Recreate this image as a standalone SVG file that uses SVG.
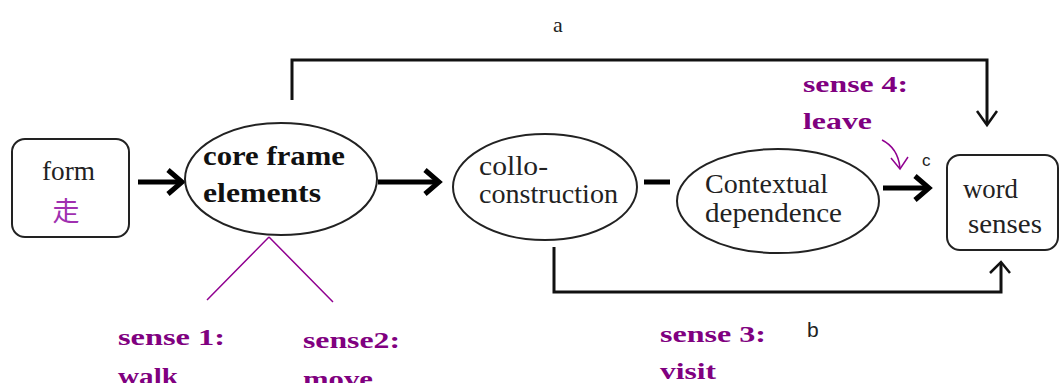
<svg xmlns="http://www.w3.org/2000/svg" width="1061" height="383" viewBox="0 0 1061 383">
<style>
.t{font-family:"Liberation Serif","Times New Roman",serif;fill:#222}
.b{font-family:"Liberation Serif","Times New Roman",serif;font-weight:bold;fill:#111}
.p{font-family:"Liberation Serif","Times New Roman",serif;font-weight:bold;fill:#800080;font-size:24px}
.s{font-family:"Liberation Sans",Arial,sans-serif;fill:#222}
.node{fill:#fff;stroke:#222;stroke-width:2}
.thick{stroke:#000;stroke-width:5;fill:none}
.conn{stroke:#111;stroke-width:3;fill:none}
</style>
<defs>
<marker id="chev" markerUnits="userSpaceOnUse" viewBox="0 0 20 30" markerWidth="20" markerHeight="30" refX="16" refY="15" orient="auto">
<path d="M2,3 L16,15 L2,27" stroke="#000" stroke-width="5" fill="none"/>
</marker>
</defs>
<rect width="1061" height="383" fill="#fff"/>
<g id="connectors">
<line class="thick" x1="138" y1="182" x2="182" y2="182" marker-end="url(#chev)"/>
<line class="thick" x1="378" y1="182" x2="439" y2="182" marker-end="url(#chev)"/>
<line class="thick" x1="644" y1="182" x2="670" y2="182"/>
<line class="thick" x1="883" y1="188" x2="929" y2="188" marker-end="url(#chev)"/>
<path class="conn" d="M292,100 V60 H987 V124"/>
<path d="M977,111 L987,125 L997,111" stroke="#111" stroke-width="2.5" fill="none"/>
<path class="conn" d="M554,247 V292 H1001 V263"/>
<path d="M990,273 L1001,262 L1010,273" stroke="#111" stroke-width="2.5" fill="none"/>
<path d="M269,237 L207,300 M269,237 L333,302" stroke="#900090" stroke-width="1.5" fill="none"/>
<path d="M882,140 Q898,148 900,168" stroke="#900090" stroke-width="1.5" fill="none"/>
<path d="M891,158 L900,169 L908,157" stroke="#900090" stroke-width="1.5" fill="none"/>
<text class="t" x="553" y="32" font-size="22">a</text>
<text class="s" x="807" y="337" font-size="21">b</text>
<text class="s" x="922" y="166" font-size="17">c</text>
</g>
<g id="form">
<rect class="node" x="12" y="139" width="117" height="98" rx="13"/>
<text class="t" x="42" y="180" font-size="28" textLength="53" lengthAdjust="spacingAndGlyphs">form</text>
<text x="66" y="221" font-size="27" text-anchor="middle" fill="#a030b0" font-family="Noto Sans CJK TC,Noto Sans CJK SC,sans-serif">走</text>
</g>
<g id="core">
<ellipse class="node" cx="281" cy="179" rx="96" ry="56" stroke-width="3"/>
<text class="b" x="203" y="165" font-size="27" textLength="142" lengthAdjust="spacingAndGlyphs">core frame</text>
<text class="b" x="203" y="202" font-size="27" textLength="118" lengthAdjust="spacingAndGlyphs">elements</text>
</g>
<g id="collo">
<ellipse class="node" cx="545" cy="187" rx="92" ry="53"/>
<text class="t" x="479" y="175" font-size="28" textLength="69" lengthAdjust="spacingAndGlyphs">collo-</text>
<text class="t" x="479" y="203" font-size="28" textLength="139" lengthAdjust="spacingAndGlyphs">construction</text>
</g>
<g id="context">
<ellipse class="node" cx="778" cy="201" rx="101" ry="52"/>
<text class="t" x="705" y="193" font-size="28" textLength="123" lengthAdjust="spacingAndGlyphs">Contextual</text>
<text class="t" x="705" y="222" font-size="28" textLength="137" lengthAdjust="spacingAndGlyphs">dependence</text>
</g>
<g id="senses">
<rect class="node" x="947" y="155" width="111" height="95" rx="13"/>
<text class="t" x="963" y="198" font-size="28" textLength="55" lengthAdjust="spacingAndGlyphs">word</text>
<text class="t" x="968" y="233" font-size="28" textLength="74" lengthAdjust="spacingAndGlyphs">senses</text>
</g>
<g id="labels">
<text class="p" x="118" y="345" textLength="107" lengthAdjust="spacingAndGlyphs">sense 1:</text>
<text class="p" x="118" y="384" textLength="60" lengthAdjust="spacingAndGlyphs">walk</text>
<text class="p" x="303" y="348" textLength="97" lengthAdjust="spacingAndGlyphs">sense2:</text>
<text class="p" x="303" y="387" textLength="70" lengthAdjust="spacingAndGlyphs">move</text>
<text class="p" x="660" y="342" textLength="106" lengthAdjust="spacingAndGlyphs">sense 3:</text>
<text class="p" x="660" y="379" textLength="56" lengthAdjust="spacingAndGlyphs">visit</text>
<text class="p" x="803" y="92" textLength="105" lengthAdjust="spacingAndGlyphs">sense 4:</text>
<text class="p" x="803" y="129" textLength="69" lengthAdjust="spacingAndGlyphs">leave</text>
</g>
</svg>
